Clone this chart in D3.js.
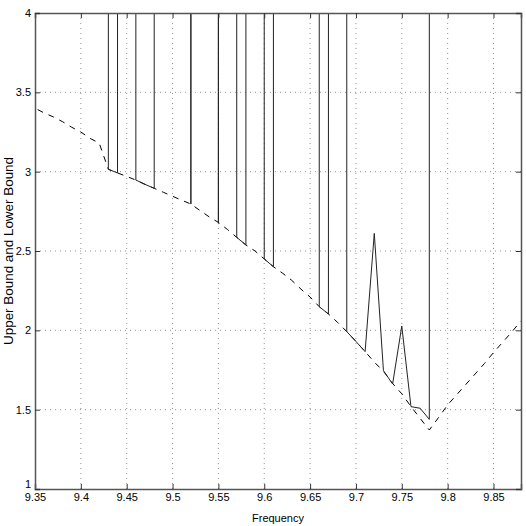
<!DOCTYPE html>
<html>
<head>
<meta charset="utf-8">
<script src="https://cdn.jsdelivr.net/npm/d3@7"></script>
<style>
  body { margin: 0; background: #fff; }
  text { font-family: "Liberation Sans Narrow", "Liberation Sans", Arial, sans-serif; }
</style>
</head>
<body>
<div id="graphic"></div>
<script>
// frequencies, 0.01 apart
const freqs = [9.35, 9.36, 9.37, 9.38, 9.39, 9.40, 9.41, 9.42, 9.43, 9.44,
               9.45, 9.46, 9.47, 9.48, 9.49, 9.50, 9.51, 9.52, 9.53, 9.54,
               9.55, 9.56, 9.57, 9.58, 9.59, 9.60, 9.61, 9.62, 9.63, 9.64,
               9.65, 9.66, 9.67, 9.68, 9.69, 9.70, 9.71, 9.72, 9.73, 9.74,
               9.75, 9.76, 9.77, 9.78, 9.79, 9.80, 9.81, 9.82, 9.83, 9.84,
               9.85, 9.86, 9.87, 9.88];

// lower bound (dashed)
const lower = [3.40, 3.37, 3.345, 3.315, 3.28, 3.25, 3.21, 3.18, 3.015, 2.992,
               2.97, 2.947, 2.92, 2.895, 2.87, 2.845, 2.82, 2.796, 2.755, 2.715,
               2.68, 2.635, 2.586, 2.538, 2.50, 2.45, 2.401, 2.36, 2.315, 2.26,
               2.21, 2.149, 2.103, 2.05, 1.992, 1.93, 1.866, 1.80, 1.742, 1.665,
               1.60, 1.52, 1.445, 1.372, 1.45, 1.53, 1.595, 1.66, 1.725, 1.79,
               1.86, 1.925, 1.99, 2.06];

// upper bound (solid), 1000 where the bound is off the chart
const upper = [1000, 1000, 1000, 1000, 1000, 1000, 1000, 1000, 3.015, 2.992,
               1000, 2.947, 2.92, 2.895, 1000, 1000, 1000, 2.796, 1000, 1000,
               2.675, 1000, 2.586, 2.538, 1000, 2.45, 2.401, 1000, 1000, 1000,
               1000, 2.149, 2.103, 1000, 1.992, 1.93, 1.866, 2.611, 1.746, 1.662,
               2.027, 1.519, 1.509, 1.439, 1000, 1000, 1000, 1000, 1000, 1000,
               1000, 1000, 1000, 1000];

const xTicks = [9.35, 9.4, 9.45, 9.5, 9.55, 9.6, 9.65, 9.7, 9.75, 9.8, 9.85];
const yTicks = [1, 1.5, 2, 2.5, 3, 3.5, 4];

const margin = { top: 13, right: 5, bottom: 37, left: 35 },
    width = 526 - margin.left - margin.right,
    height = 526 - margin.top - margin.bottom;

const svg = d3.select("#graphic")
    .append("svg")
    .attr("width", 526)
    .attr("height", 526)
    .append("g")
    .attr("transform", `translate(${margin.left},${margin.top})`);

const x = d3.scaleLinear().domain([9.35, 9.88]).range([0, width]);
const y = d3.scaleLinear().domain([1, 4]).range([height, 0]);

// grid
svg.append("g")
    .selectAll("line")
    .data(xTicks.slice(1))
    .join("line")
    .attr("x1", d => x(d)).attr("x2", d => x(d))
    .attr("y1", 0).attr("y2", height)
    .attr("stroke", "#777").attr("stroke-width", 0.8)
    .attr("stroke-dasharray", "1,4");
svg.append("g")
    .selectAll("line")
    .data(yTicks.slice(1, -1))
    .join("line")
    .attr("x1", 0).attr("x2", width)
    .attr("y1", d => y(d)).attr("y2", d => y(d))
    .attr("stroke", "#777").attr("stroke-width", 0.8)
    .attr("stroke-dasharray", "1,4");

svg.append("clipPath").attr("id", "clip")
    .append("rect").attr("width", width).attr("height", height);

const line = d3.line().x((d, i) => x(freqs[i])).y(d => y(d));

svg.append("path")
    .datum(lower)
    .attr("clip-path", "url(#clip)")
    .attr("fill", "none")
    .attr("stroke", "#000")
    .attr("stroke-width", 1)
    .attr("stroke-dasharray", "6,6")
    .attr("stroke-dashoffset", -3)
    .attr("d", line);

svg.append("path")
    .datum(upper)
    .attr("clip-path", "url(#clip)")
    .attr("fill", "none")
    .attr("stroke", "#222")
    .attr("stroke-width", 1)
    .attr("d", line);

// axes with inward ticks on all sides
const fmt = d => String(+d.toFixed(2));
const xAxis = svg.append("g")
    .attr("transform", `translate(0, ${height})`)
    .call(d3.axisBottom(x).tickValues(xTicks).tickSize(-5).tickPadding(4).tickFormat(fmt));
const xTop = svg.append("g")
    .call(d3.axisTop(x).tickValues(xTicks).tickSize(-5).tickFormat(""));
const yAxis = svg.append("g")
    .call(d3.axisLeft(y).tickValues(yTicks).tickSize(-5).tickPadding(4).tickFormat(fmt));
const yRight = svg.append("g")
    .attr("transform", `translate(${width}, 0)`)
    .call(d3.axisRight(y).tickValues(yTicks).tickSize(-5).tickFormat(""));

[xAxis, xTop, yAxis, yRight].forEach(g => {
    g.select(".domain").attr("stroke", "#555").attr("stroke-width", 1.5);
    g.selectAll(".tick line").attr("stroke", "#333");
    g.selectAll("text").attr("fill", "#000").style("font-size", "11px")
        .style("font-family", "'Liberation Sans Narrow', 'Liberation Sans', Arial, sans-serif");
});

// lift the bottom "1" so it clears the 9.35 label
yAxis.selectAll(".tick text").filter(d => d === 1).attr("dy", "-0.15em");

svg.append("text")
    .attr("x", width / 2)
    .attr("y", height + 33)
    .attr("text-anchor", "middle")
    .style("font-size", "11px")
    .text("Frequency");

svg.append("text")
    .attr("transform", `translate(${-22}, ${height / 2}) rotate(-90)`)
    .attr("text-anchor", "middle")
    .attr("textLength", 188)
    .attr("lengthAdjust", "spacingAndGlyphs")
    .style("font-size", "12px")
    .text("Upper Bound and Lower Bound");
</script>
</body>
</html>
